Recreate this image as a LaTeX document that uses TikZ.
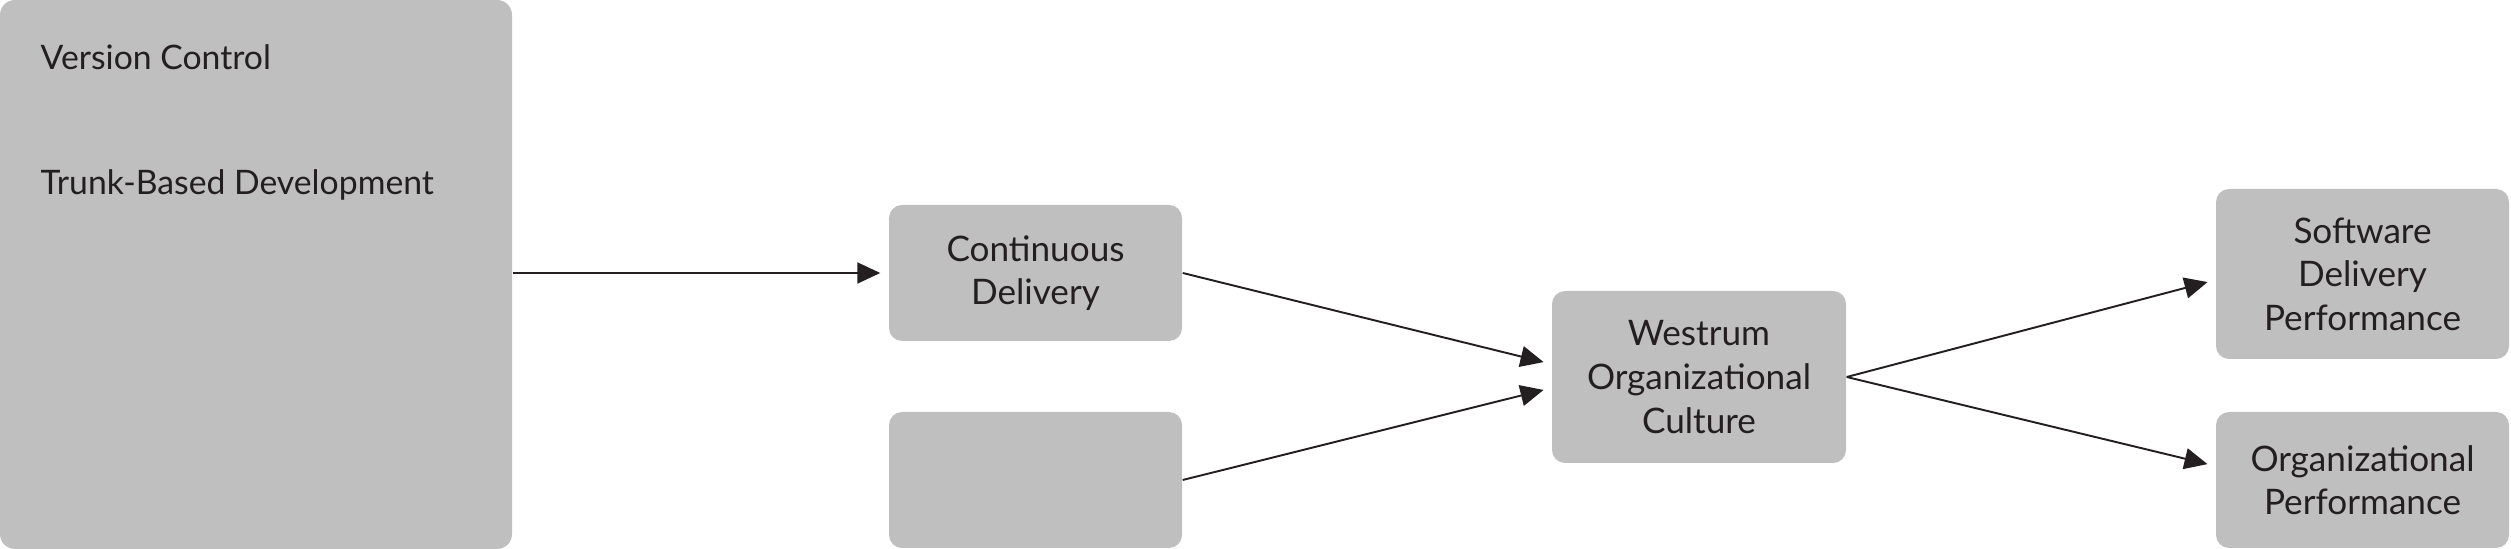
\documentclass[tikz,border=0pt]{standalone}
\usepackage{fontspec}
\setmainfont{Lato}
\usetikzlibrary{arrows.meta}
\definecolor{boxgray}{HTML}{BFBFBF}
\definecolor{inkdark}{HTML}{231F20}
\tikzset{
	stage/.style={fill=boxgray, rounded corners=0.13cm, align=center, text=inkdark,
		inner sep=0pt, font=\fontsize{10}{12.4}\selectfont},
	flow/.style={draw=inkdark, line width=0.55pt, -{Triangle[length=0.23cm,width=0.21cm]}, shorten >=0.08cm}
}
\begin{document}
\begin{tikzpicture}
		\useasboundingbox (0,0) rectangle (25.11,-5.49);
		\node[stage, rounded corners=0.15cm, minimum width=5.12cm, minimum height=5.49cm] (vc) at (2.56,-2.745) {};
		\node[anchor=base west, inner sep=0pt, text=inkdark, font=\fontsize{9.6}{12}\selectfont] (vctext) at (0.40,-0.70) {Version Control};
		\node[anchor=base west, inner sep=0pt, text=inkdark, font=\fontsize{9.6}{12}\selectfont] (tbdtext) at (0.40,-1.95) {Trunk-Based Development};
		\node[stage, minimum width=2.93cm, minimum height=1.36cm] (cd) at (10.355,-2.73) {Continuous\\Delivery};
		\node[stage, minimum width=2.93cm, minimum height=1.36cm] (blank) at (10.355,-4.80) {};
		\node[stage, minimum width=2.94cm, minimum height=1.72cm] (westrum) at (16.99,-3.77) {Westrum\\Organizational\\Culture};
		\node[stage, minimum width=2.93cm, minimum height=1.70cm] (sdp) at (23.625,-2.74) {Software\\Delivery\\Performance};
		\node[stage, minimum width=2.93cm, minimum height=1.36cm] (op) at (23.625,-4.80) {Organizational\\Performance};
		\draw[flow] (vc.east |- cd.west) -- (cd.west);
		\draw[flow] (cd.east) -- ([yshift=0.13cm]westrum.west);
		\draw[flow] (blank.east) -- ([yshift=-0.11cm]westrum.west);
		\draw[flow] (westrum.east) -- ([yshift=-0.06cm]sdp.west);
		\draw[flow] (westrum.east) -- ([yshift=0.14cm]op.west);
\end{tikzpicture}
\end{document}
